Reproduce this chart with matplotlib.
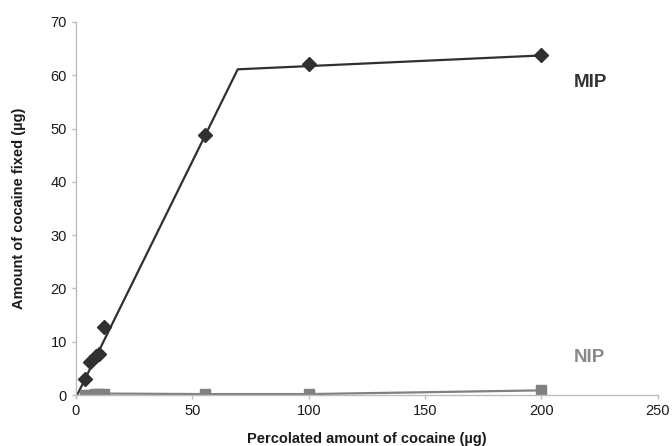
import matplotlib
matplotlib.use("Agg")
import matplotlib.pyplot as plt

plt.rcParams['font.family'] = ['Liberation Sans', 'DejaVu Sans']

# MIP data points
mip_x = [3.9, 6.0, 8.6, 9.9, 12.0, 55.4, 100, 200]
mip_y = [3.0, 6.2, 7.3, 7.7, 12.8, 48.8, 62.1, 63.8]
# MIP fitted segments (break points)
fit_x = [0.5, 69.5, 200]
fit_y = [0.0, 61.1, 63.7]
# NIP data
nip_x = [4, 6, 8, 10, 12, 55.4, 100, 200]
nip_y = [0.1, 0.1, 0.2, 0.3, 0.3, 0.2, 0.2, 0.9]

xticks = [0, 50, 100, 150, 200, 250]
yticks = [0, 10, 20, 30, 40, 50, 60, 70]

fig = plt.figure(figsize=(6.72, 4.46), dpi=100)
ax = fig.add_axes([0.113, 0.114, 0.866, 0.837])

ax.plot(fit_x, fit_y, color='#303030', lw=1.6, zorder=2)
ax.plot(mip_x, mip_y, linestyle='none', marker='D', markersize=7.5,
        color='#303030', zorder=3)
ax.plot(nip_x, nip_y, color='#808080', lw=1.6, marker='s', markersize=6.5,
        zorder=2)

ax.set_xlim(0, 250)
ax.set_ylim(0, 70)
ax.set_xticks(xticks)
ax.set_yticks(yticks)
for s in ['top', 'right']:
    ax.spines[s].set_visible(False)
for s in ['left', 'bottom']:
    ax.spines[s].set_color('#bdbdbd')
    ax.spines[s].set_linewidth(1.0)
ax.tick_params(colors='#bdbdbd', labelcolor='#1a1a1a', labelsize=10.5,
               length=3, width=1)

ax.set_xlabel('Percolated amount of cocaine (µg)', fontsize=10.5,
              fontweight='bold', color='#1a1a1a', labelpad=10)
ax.set_ylabel('Amount of cocaine fixed (µg)', fontsize=10.5,
              fontweight='bold', color='#1a1a1a', labelpad=18)

ax.text(214, 58.7, 'MIP', fontsize=13.5, fontweight='bold',
        color='#333333', ha='left', va='center')
ax.text(214, 7.1, 'NIP', fontsize=13.5, fontweight='bold', color='#888888',
        ha='left', va='center')

fig.savefig('out.png', dpi=100)
